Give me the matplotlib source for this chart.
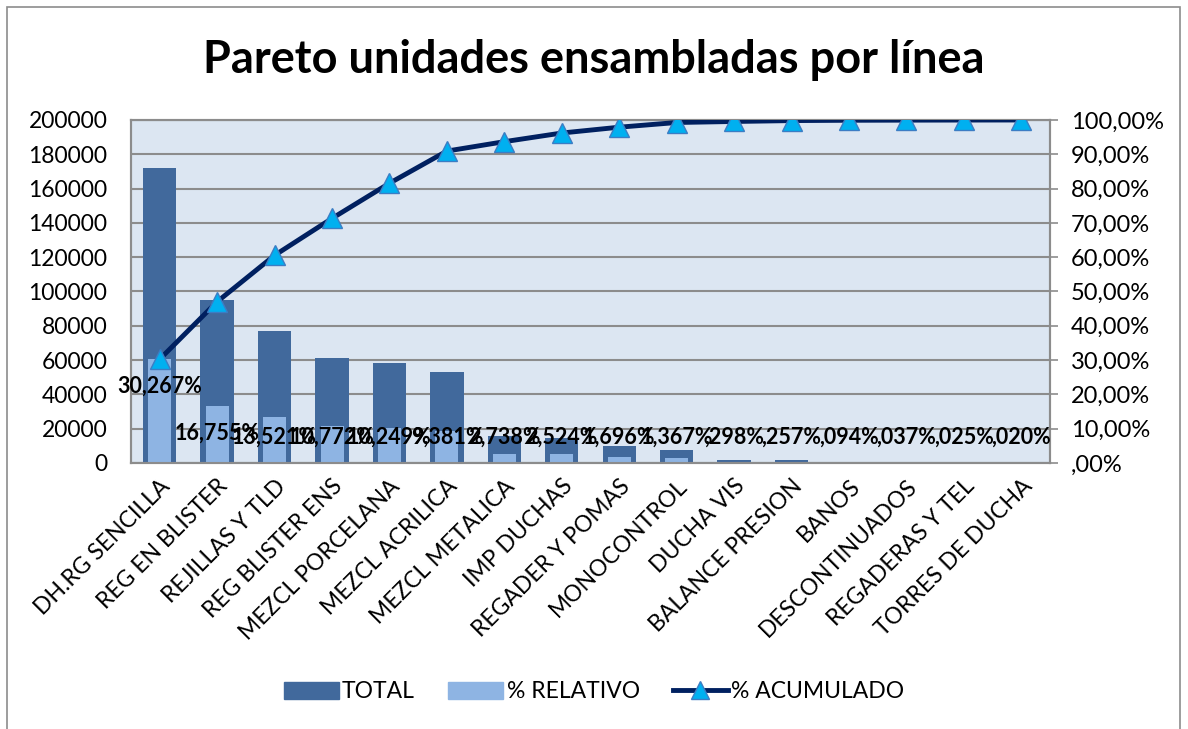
import numpy as np
import matplotlib
matplotlib.use("Agg")
import matplotlib.pyplot as plt
from matplotlib.lines import Line2D
from matplotlib.patches import Patch, Rectangle
from matplotlib.ticker import FuncFormatter

plt.rcParams['font.family'] = ['Lato', 'DejaVu Sans']

# Units assembled per line, sorted high to low
lines = ["DH.RG SENCILLA", "REG EN BLISTER", "REJILLAS Y TLD", "REG BLISTER ENS",
         "MEZCL PORCELANA", "MEZCL ACRILICA", "MEZCL METALICA", "IMP DUCHAS",
         "REGADER Y POMAS", "MONOCONTROL", "DUCHA VIS", "BALANCE PRESION",
         "BANOS", "DESCONTINUADOS", "REGADERAS Y TEL", "TORRES DE DUCHA"]
total = [172000, 95200, 76800, 61200, 58200, 53300, 15550, 14340,
         9640, 7770, 1690, 1460, 530, 210, 140, 110]
relativo = [30.267, 16.755, 13.521, 10.772, 10.249, 9.381, 2.738, 2.524,
            1.696, 1.367, 0.298, 0.257, 0.094, 0.037, 0.025, 0.020]
acumulado = [30.267, 47.022, 60.543, 71.315, 81.564, 90.945, 93.683, 96.207,
             97.903, 99.270, 99.568, 99.825, 99.919, 99.956, 99.981, 100.0]

dark = "#41699C"
light = "#8EB4E3"
navy = "#002060"
tri = "#00B0F0"
grid = "#8C8C8C"


def pct(v, decimals):
    s = ("%.*f%%" % (decimals, v)).replace(".", ",")
    return s[1:] if s.startswith("0,") else s


fig = plt.figure(figsize=(11.88, 7.29), dpi=100)
fig.patches.append(Rectangle((7 / 1188, -0.05), 1173 / 1188, 1.04, transform=fig.transFigure,
                             fill=False, edgecolor="#8C8C8C", linewidth=1.2))

ax = fig.add_axes([131 / 1188, 1 - 463 / 729, 919 / 1188, 343 / 729])
ax2 = ax.twinx()
ax.set_zorder(1)
ax2.set_zorder(2)
ax.set_facecolor("#DCE6F2")
ax2.patch.set_visible(False)

x = np.arange(len(lines))
ax.bar(x, total, width=0.58, color=dark, zorder=2)
ax.set_ylim(0, 200000)
ax.set_yticks(np.arange(0, 200001, 20000))
ax.yaxis.grid(True, color=grid, linewidth=1.5, zorder=0)
ax.set_axisbelow(True)
ax.set_xlim(-0.5, len(lines) - 0.5)

ax2.bar(x, np.array(relativo) / 100, width=0.40, color=light, zorder=2)
ax2.plot(x, np.array(acumulado) / 100, color=navy, linewidth=3.5, marker="^",
         markersize=15, markerfacecolor=tri, markeredgecolor="#3C7DC4",
         markeredgewidth=1, zorder=3)
ax2.set_ylim(0, 1)
ax2.set_yticks(np.arange(0, 1.01, 0.1))
ax2.yaxis.set_major_formatter(FuncFormatter(lambda v, p: pct(v * 100, 2)))

# % relativo labels, inside the bar end or near the base for short bars
for xi, r in zip(x, relativo):
    ypos = max(r / 100 - 0.08, 0.075)
    ax2.text(xi, ypos, pct(r, 3), ha="center", va="center", fontsize=15.5,
             fontweight="bold", color="black", zorder=5)

ax.set_xticks(x)
ax.set_xticklabels(lines, rotation=45, ha="right", rotation_mode="anchor", fontsize=16.5)
ax.tick_params(axis="x", length=0, pad=9)
ax.tick_params(axis="y", length=0, labelsize=16.5, pad=17)
ax2.tick_params(axis="y", length=6, width=1.2, color=grid, labelsize=17, pad=9, direction="out")

for a in (ax, ax2):
    for s in a.spines.values():
        s.set_color(grid)
        s.set_linewidth(1.5)

fig.text(0.5, 1 - 60 / 729, "Pareto unidades ensambladas por línea", ha="center",
         va="center", fontsize=32.5, fontweight="bold")

handles = [Patch(color=dark), Patch(color=light),
           Line2D([], [], color=navy, linewidth=3.5, marker="^", markersize=13,
                  markerfacecolor=tri, markeredgecolor="#3C7DC4")]
fig.legend(handles, ["TOTAL", "% RELATIVO", "% ACUMULADO"], loc="center",
           bbox_to_anchor=(0.5, 1 - 692 / 729), ncol=3, frameon=False, fontsize=16.5,
           handlelength=2.4, handletextpad=0.15, columnspacing=1.45)

fig.savefig("out.png", dpi=100)
